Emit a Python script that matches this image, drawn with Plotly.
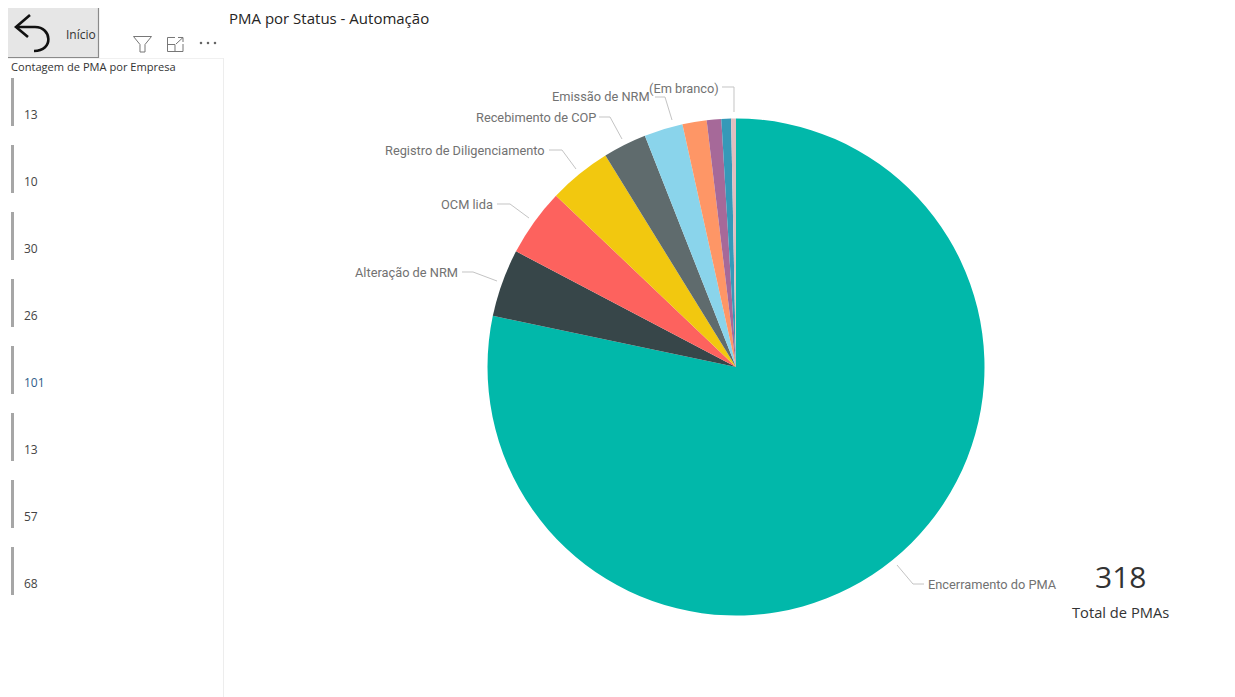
import plotly.graph_objects as go

WIDTH, HEIGHT = 1235, 697

# Status slices, clockwise from twelve o'clock
status = ["Encerramento do PMA", "Alteração de NRM", "OCM lida", "Registro de Diligenciamento",
          "Recebimento de COP", "Emissão de NRM", "Outros A", "Outros B", "Outros C", "(Em branco)"]
counts = [249, 14, 14, 13, 9, 8, 5, 3, 2, 1]
colors = ["#01B8AA", "#374649", "#FD625E", "#F2C80F", "#5F6B6D",
          "#8AD4EB", "#FE9666", "#A66999", "#3599B8", "#DFBFBF"]

# Counts per company in the side list
company_counts = ["13", "10", "30", "26", "101", "13", "57", "68"]
company_colors = ["#444", "#444", "#444", "#444", "#2F5D8A", "#444", "#444", "#444"]
list_bar_top = [78, 145, 212, 279, 346, 413, 480, 547]

total_label = "318"

# Layout anchors in screen pixels
PIE_CX, PIE_CY, PIE_R = 736, 367, 248.5

# Outside labels: text, anchor x, y, alignment, leader polyline
pie_labels = [
    ("Encerramento do PMA", 928, 584.5, "left", [(897, 565), (913, 584), (924, 584)]),
    ("Alteração de NRM", 457.5, 272.5, "right", [(497, 281), (473, 272), (462, 272)]),
    ("OCM lida", 493.5, 204.5, "right", [(529, 218), (510, 204), (497, 204)]),
    ("Registro de Diligenciamento", 544.5, 150.5, "right", [(576, 169), (562, 150), (549, 150)]),
    ("Recebimento de COP", 595.5, 117.5, "right", [(622, 139), (610, 117), (599, 117)]),
    ("Emissão de NRM", 650, 96.5, "right", [(672, 120), (665, 97), (655, 97)]),
    ("(Em branco)", 718.5, 88.5, "right", [(734, 112), (734, 87), (722, 87)]),
]


def fx(x):
    return x / WIDTH


def fy(y):
    return 1 - y / HEIGHT


def path_of(*commands):
    """Build an SVG path in paper units from (letter, x, y, ...) tuples given in pixels."""
    parts = []
    for cmd in commands:
        if cmd[0] == "Z":
            parts.append("Z")
            continue
        nums = cmd[1:]
        pairs = [f"{fx(nums[i]):.5f},{fy(nums[i + 1]):.5f}" for i in range(0, len(nums), 2)]
        parts.append(cmd[0] + " " + " ".join(pairs))
    return " ".join(parts)


def rect(x0, y0, x1, y1, fill, line=None, width=0):
    return dict(type="rect", xref="paper", yref="paper", x0=fx(x0), x1=fx(x1), y0=fy(y1), y1=fy(y0),
                fillcolor=fill, line=dict(color=line or fill, width=width), layer="below")


def stroke(cmds, color, width=1.0, fill=None):
    return dict(type="path", xref="paper", yref="paper", path=path_of(*cmds),
                line=dict(color=color, width=width), fillcolor=fill or "rgba(0,0,0,0)")


def text(s, x, y, size, color, font="Open Sans", align="left"):
    return dict(text=s, x=fx(x), y=fy(y), xref="paper", yref="paper", xanchor=align, yanchor="middle",
                showarrow=False, font=dict(family=font, size=size, color=color), borderpad=0, borderwidth=0)


shapes = []
annotations = []

# Side panel frame
shapes.append(stroke([("M", 223.5, 58), ("L", 223.5, 697)], "#EDEDED", 1))
shapes.append(stroke([("M", 8, 58.5), ("L", 223, 58.5)], "#F0F0F0", 1))

# Home button with its back arrow
shapes.append(rect(8, 8, 98, 57, "#E6E6E6"))
shapes.append(stroke([("M", 98.5, 8), ("L", 98.5, 57.5), ("L", 8, 57.5)], "#8A8A8A", 1.2))
shapes.append(stroke([("M", 30, 15), ("L", 16, 27), ("L", 28, 37)], "#111111", 2.6))
shapes.append(stroke([("M", 16, 27), ("L", 35, 27), ("C", 52, 27, 54, 51, 34, 51)], "#111111", 2.6))
annotations.append(text("Início", 66, 34.5, 12, "#333333"))

# Visual header icons
shapes.append(stroke([("M", 133.5, 36.5), ("L", 151.5, 36.5), ("L", 145, 44.5), ("L", 145, 52),
                      ("L", 140, 52), ("L", 140, 44.5), ("Z",)], "#777777", 1))
shapes.append(stroke([("M", 175, 37.5), ("L", 167.5, 37.5), ("L", 167.5, 51.5), ("L", 183, 51.5), ("L", 183, 44)],
                     "#777777", 1))
shapes.append(stroke([("M", 167.5, 44.5), ("L", 175, 44.5), ("L", 175, 51.5)], "#777777", 1))
shapes.append(stroke([("M", 176, 44), ("L", 183, 37.5), ("M", 178, 37.5), ("L", 183, 37.5), ("L", 183, 42)],
                     "#777777", 1))
for dot_x in (201, 208, 215):
    shapes.append(dict(type="circle", xref="paper", yref="paper", x0=fx(dot_x - 1.3), x1=fx(dot_x + 1.3),
                       y0=fy(44.3), y1=fy(41.7), fillcolor="#666666", line=dict(width=0)))

annotations.append(text("Contagem de PMA por Empresa", 10.5, 66, 11.1, "#333333"))
annotations.append(text("PMA por Status - Automação", 228.5, 18.5, 15, "#252423"))

# Company list rows
for top, value, color in zip(list_bar_top, company_counts, company_colors):
    shapes.append(rect(11, top, 14, top + 48, "#A6A6A6"))
    annotations.append(text(value, 24, top + 36, 12, color))

# Pie labels with their leader lines
for label, x, y, align, pts in pie_labels:
    annotations.append(text(label, x, y, 12.8, "#727272", font="Roboto", align=align))
    cmds = [("M", *pts[0])] + [("L", *p) for p in pts[1:]]
    shapes.append(stroke(cmds, "#C4C4C4", 1))

# Total card
annotations.append(text(total_label, 1120, 576, 30, "#333333", align="center"))
annotations.append(text("Total de PMAs", 1120.5, 611.5, 14.7, "#333333", align="center"))

fig = go.Figure(
    go.Pie(
        labels=status,
        values=counts,
        sort=False,
        direction="clockwise",
        rotation=0,
        textinfo="none",
        hoverinfo="label+value",
        marker=dict(colors=colors, line=dict(width=0)),
        domain=dict(x=[fx(PIE_CX - PIE_R), fx(PIE_CX + PIE_R)], y=[fy(PIE_CY + PIE_R), fy(PIE_CY - PIE_R)]),
        showlegend=False,
    )
)
fig.update_layout(
    width=WIDTH,
    height=HEIGHT,
    margin=dict(l=0, r=0, t=0, b=0),
    paper_bgcolor="white",
    plot_bgcolor="white",
    shapes=shapes,
    annotations=annotations,
    showlegend=False,
)
fig.write_html("out.html", config=dict(displayModeBar=False))
